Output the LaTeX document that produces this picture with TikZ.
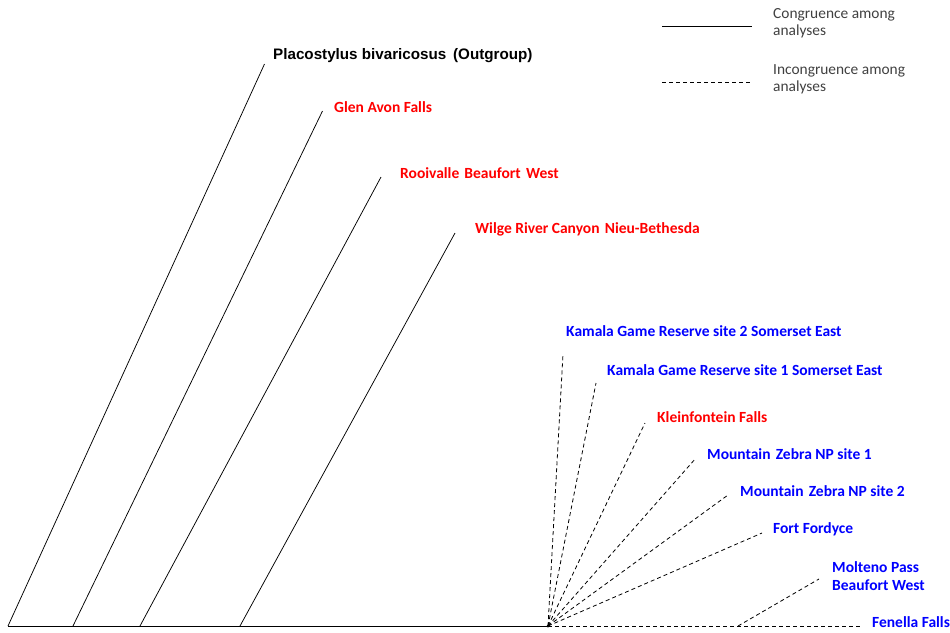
\documentclass[tikz,border=0pt]{standalone}
\usepackage{fontspec}
\setmainfont{Carlito}
\newfontfamily\arialfont{Liberation Sans}
\usetikzlibrary{positioning}

\begin{document}
\begin{tikzpicture}[x=1pt,y=-1pt,
  taxon/.style={anchor=west,inner sep=0pt,font=\bfseries\fontsize{15.5}{18}\selectfont},
  redtaxon/.style={taxon,text=red},
  bluetaxon/.style={taxon,text=blue,align=left},
  legtext/.style={anchor=west,inner sep=0pt,align=left,text=black!75,font=\fontsize{15.4}{17}\selectfont},
  branch/.style={line width=0.75pt},
  weak/.style={line width=0.8pt,dash pattern=on 4pt off 3pt}]
\useasboundingbox (0,0) rectangle (950,632);

% base line and roots
\coordinate (r0) at (8,626);
\coordinate (r1) at (73,626);
\coordinate (r2) at (140,626);
\coordinate (r3) at (240,626);
\coordinate (fan) at (548,626);
\coordinate (r4) at (738,626);
\coordinate (fe) at (862,626);

% tips
\coordinate (t0) at (264.5,64);
\coordinate (t1) at (322.5,111);
\coordinate (t2) at (381,177);
\coordinate (t3) at (455,233);
\coordinate (k2) at (563,354);
\coordinate (k1) at (596,383);
\coordinate (kl) at (645,423);
\coordinate (mz1) at (696,458);
\coordinate (mz2) at (728,495);
\coordinate (ff) at (762,533);
\coordinate (mp) at (819,579);

\node[taxon,font=\arialfont\bfseries\fontsize{15.2}{18}\selectfont] (outgroup) at (273,56) {Placostylus bivaricosus \,(Outgroup)};
\node[redtaxon] (glen) at (334,107) {Glen Avon Falls};
\node[redtaxon] (rooi) at (400,173) {Rooivalle\,\,Beaufort\,\,West};
\node[redtaxon] (wilge) at (475,229) {Wilge River Canyon\,\,Nieu-Bethesda};
\node[bluetaxon] (kamala2) at (566,331) {Kamala Game Reserve site 2 Somerset East};
\node[bluetaxon] (kamala1) at (607,370) {Kamala Game Reserve site 1 Somerset East};
\node[redtaxon] (klein) at (657,417) {Kleinfontein Falls};
\node[bluetaxon] (zebra1) at (707,454) {Mountain\,\,Zebra NP site 1};
\node[bluetaxon] (zebra2) at (740,491) {Mountain\,\,Zebra NP site 2};
\node[bluetaxon] (fordyce) at (773,529) {Fort Fordyce};
\node[bluetaxon] (molteno) at (832,576) {Molteno Pass\\Beaufort West};
\node[bluetaxon] (fenella) at (872,622) {Fenella Falls};

\draw[line width=1pt] (r0) -- (fan);
\draw[branch] (r0) -- (t0);
\draw[branch] (r1) -- (t1);
\draw[branch] (r2) -- (t2);
\draw[branch] (r3) -- (t3);

\draw[weak] (fan) -- (fe);
\foreach \t in {k2,k1,kl,mz1,mz2,ff}
  \draw[weak] (fan) -- (\t);
\draw[weak] (r4) -- (mp);
\fill (fan) circle (1.5);

% legend
\coordinate (la) at (662,26);
\coordinate (lb) at (752,26);
\coordinate (lc) at (662,82);
\coordinate (ld) at (752,82);
\draw[branch] (la) -- (lb);
\draw[weak] (lc) -- (ld);
\node[legtext] (congr) at (773,23.5) {Congruence among\\analyses};
\node[legtext] (incongr) at (773,79.5) {Incongruence among\\analyses};
\end{tikzpicture}
\end{document}
